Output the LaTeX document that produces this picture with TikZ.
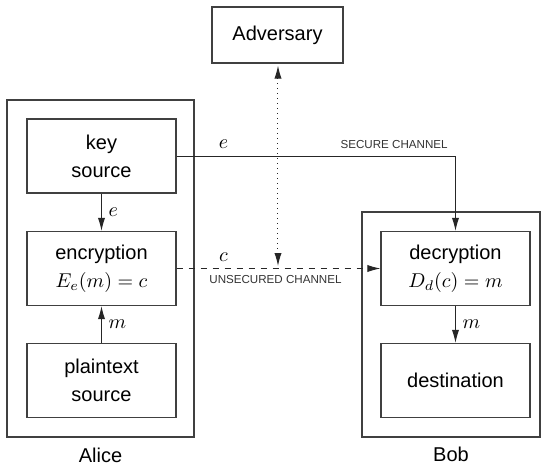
\documentclass[tikz,border=0pt]{standalone}
\usepackage{fontspec}
\setmainfont{Liberation Sans}
\usepackage{tikz}
\usetikzlibrary{arrows.meta, positioning, calc}

\begin{document}
\begin{tikzpicture}[
                x=0.5pt, y=-0.5pt,
                party/.style={rectangle, draw=black!75, line width=0.6pt, minimum width=93.5pt, minimum height=168.5pt},
                block/.style={rectangle, draw=black!75, line width=0.6pt, minimum width=74.5pt, minimum height=37pt, align=center, font=\fontsize{10}{14}\selectfont},
                chan/.style={font=\fontsize{5.8}{7}\selectfont, text=black!80},
                arrow/.style={line width=0.5pt, draw=black!85, -{Latex[length=6.5pt, width=3.6pt]}},
                double_arrow/.style={line width=0.5pt, draw=black!85, {Latex[length=6.5pt, width=3.6pt]}-{Latex[length=6.5pt, width=3.6pt]}}
            ]%
            \useasboundingbox (0,0) rectangle (543,467);
            %
            % Alice
            \node[party] (alice) at (100.5,268.5) {};
            \node[block] (key) at (101.5,156) {key\\source};
            \node[block] (enc) at (101.5,268.5) {encryption\\$E_e(m)=c$};
            \node[block] (plain) at (101.5,380.5) {plaintext\\source};
            \node[below=1.5pt of alice, font=\fontsize{10}{12}\selectfont] (alicename) {Alice};
            %
            % Bob
            \node[party, minimum width=89pt, minimum height=112.5pt] (bob) at (451,324.5) {};
            \node[block] (dec) at (455.5,268.5) {decryption\\$D_d(c)=m$};
            \node[block] (dest) at (455.5,380.5) {destination};
            \node[below=1pt of bob, font=\fontsize{10}{12}\selectfont] (bobname) {Bob};
            %
            % Adversary
            \node[block, minimum width=65.5pt, minimum height=28pt] (adv) at (277.5,35) {Adversary};
            \coordinate (tap) at (278,266);
            %
            % Conexiones internas
            \draw[arrow] (key) -- node[right] {$e$} (enc);
            \draw[arrow] (plain) -- node[right] {$m$} (enc);
            \draw[arrow] (dec) -- node[right] {$m$} (dest);
            %
            % Canales
            \draw[arrow] (key.east) -| node[pos=0.084, above] {$e$} node[pos=0.39, above, chan] {SECURE CHANNEL} (dec.north);
            \draw[arrow, dashed] (enc.east) -- node[pos=0.23, above] {$c$} node[pos=0.485, below, chan] {UNSECURED CHANNEL} (dec.west);
            \draw[double_arrow, dotted, shorten <=1pt] (adv.south -| tap) -- (tap);
        \end{tikzpicture}
\end{document}
